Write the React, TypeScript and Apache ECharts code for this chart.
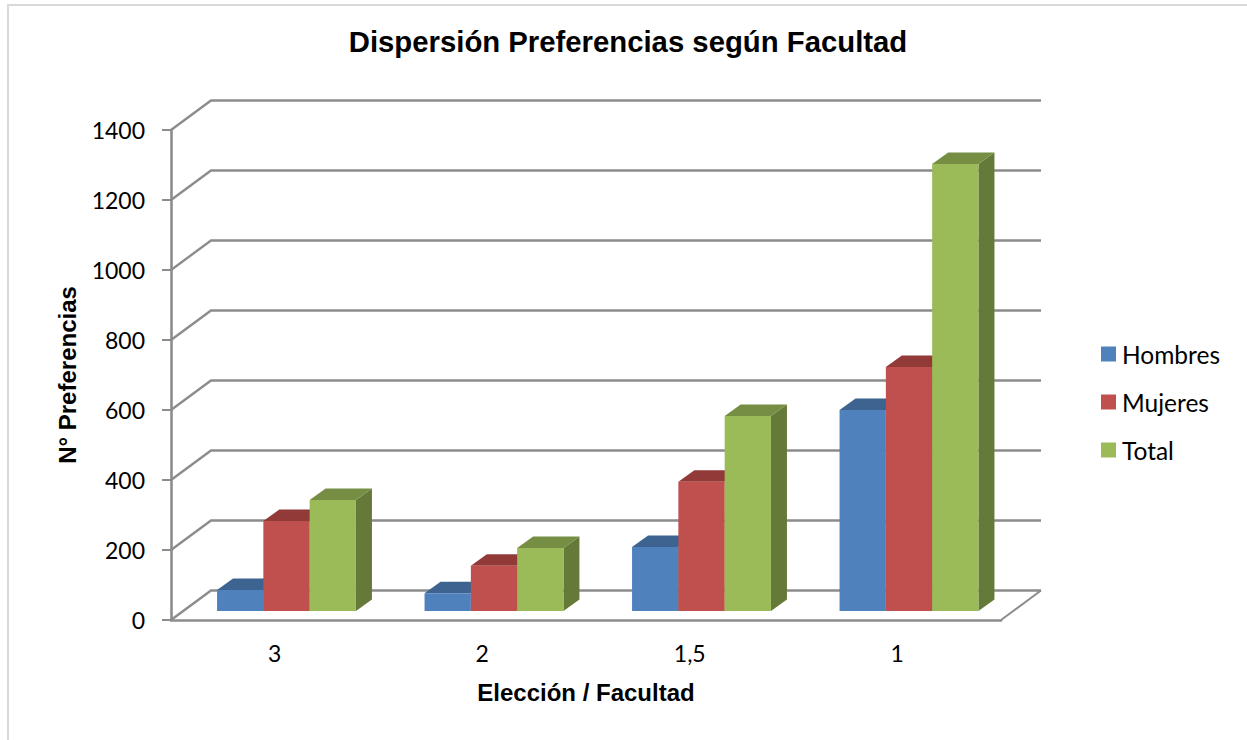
import React, { useEffect, useRef } from "react";
import * as echarts from "echarts";

const categories = ["3", "2", "1,5", "1"];
const hombres = [60, 51, 183, 574];
const mujeres = [257, 129, 369, 697];
const total = [317, 180, 557, 1277];
const yTicks = [0, 200, 400, 600, 800, 1000, 1200, 1400];

const GRID = { left: 171, top: 130, width: 830, height: 490 };
const WALL_DX = 40;
const WALL_DY = 29.5;
const BAR_W = 46.3;
const BAR_SHIFT = 11.75;
const FLOOR_DY = 9;
const DEPTH_X = 16;
const DEPTH_Y = 11.5;
const GRID_COLOR = "#8c8c8c";

const barRender = (slot: number, front: string, top: string, side: string) => (params: any, api: any) => {
  const idx = api.value(0);
  const [cx, yTop] = api.coord([idx, api.value(1)]);
  const [, yBase] = api.coord([idx, 0]);
  const x0 = cx + BAR_SHIFT + (slot - 1.5) * BAR_W;
  const x1 = x0 + BAR_W;
  const y0 = yTop - FLOOR_DY;
  const y1 = yBase - FLOOR_DY;
  return {
    type: "group",
    children: [
      { type: "polygon", shape: { points: [[x1, y0], [x1 + DEPTH_X, y0 - DEPTH_Y], [x1 + DEPTH_X, y1 - DEPTH_Y], [x1, y1]] }, style: { fill: side } },
      { type: "polygon", shape: { points: [[x0, y0], [x0 + DEPTH_X, y0 - DEPTH_Y], [x1 + DEPTH_X, y0 - DEPTH_Y], [x1, y0]] }, style: { fill: top } },
      { type: "rect", shape: { x: x0, y: y0, width: BAR_W, height: y1 - y0 }, style: { fill: front } },
    ],
  };
};

const wallRender = (params: any, api: any) => {
  const v = api.value(1);
  const y = api.coord([0, v])[1];
  const cs = params.coordSys;
  const xL = cs.x;
  const xR = cs.x + cs.width;
  const children: any[] = [
    {
      type: "polyline",
      shape: { points: [[xL, y], [xL + WALL_DX, y - WALL_DY], [xR + WALL_DX, y - WALL_DY]] },
      style: { stroke: GRID_COLOR, lineWidth: 2.4, fill: "none" },
    },
  ];
  if (v === 0) {
    children.push({
      type: "line",
      shape: { x1: xR, y1: y, x2: xR + WALL_DX, y2: y - WALL_DY },
      style: { stroke: GRID_COLOR, lineWidth: 2 },
    });
  }
  return { type: "group", children };
};

const seriesDefs = [
  { name: "Hombres", values: hombres, front: "#4F81BD", top: "#3D6390", side: "#3A5F8C" },
  { name: "Mujeres", values: mujeres, front: "#C0504D", top: "#923A38", side: "#8E3B39" },
  { name: "Total", values: total, front: "#9BBB59", top: "#768E44", side: "#657A38" },
];

export default function App() {
  const ref = useRef<HTMLDivElement>(null);
  useEffect(() => {
    const chart = echarts.init(ref.current!, undefined, { renderer: "svg" });
    chart.setOption({
      animation: false,
      backgroundColor: "#ffffff",
      title: {
        text: "Dispersión Preferencias según Facultad",
        left: 623,
        top: 22,
        textAlign: "center",
        textStyle: { fontFamily: "Liberation Sans", fontSize: 29.3, fontWeight: "bold", color: "#000" },
      },
      legend: {
        data: seriesDefs.map((s) => s.name),
        orient: "vertical",
        left: 1096,
        top: 335,
        icon: "rect",
        itemWidth: 15,
        itemHeight: 15,
        itemGap: 20,
        textStyle: { fontFamily: "Lato", fontSize: 24.5, color: "#000", padding: [0, 0, 0, 1], lineHeight: 28 },
      },
      grid: GRID,
      xAxis: {
        type: "category",
        data: categories,
        name: "Elección / Facultad",
        nameLocation: "middle",
        nameGap: 60,
        nameTextStyle: { fontFamily: "Liberation Sans", fontSize: 24, fontWeight: "bold", color: "#000" },
        axisLine: { lineStyle: { color: GRID_COLOR, width: 2.6 } },
        axisTick: { show: false },
        axisLabel: { fontFamily: "Lato", fontSize: 23, color: "#000", margin: 21 },
      },
      yAxis: {
        type: "value",
        min: 0,
        max: 1400,
        interval: 200,
        name: "N° Preferencias",
        nameLocation: "middle",
        nameGap: 92,
        nameTextStyle: { fontFamily: "Liberation Sans", fontSize: 24, fontWeight: "bold", color: "#000" },
        axisLine: { show: true, lineStyle: { color: GRID_COLOR, width: 2.6 } },
        axisTick: { show: true, length: 9, lineStyle: { color: GRID_COLOR, width: 2 } },
        axisLabel: { fontFamily: "Lato", fontSize: 23, color: "#000", margin: 26, formatter: (v: number) => String(v) },
        splitLine: { show: false },
      },
      graphic: [
        {
          type: "polyline",
          shape: { points: [[8, 740], [8, 5], [1247, 5]] },
          style: { stroke: "#d9d9d9", lineWidth: 2, fill: "none" },
          silent: true,
        },
      ],
      series: [
        {
          type: "custom",
          name: "walls",
          renderItem: wallRender,
          clip: false,
          silent: true,
          z: 1,
          data: yTicks.map((t) => [0, t]),
          encode: { x: 0, y: 1 },
        },
        ...seriesDefs.map((s, slot) => ({
          type: "custom",
          name: s.name,
          renderItem: barRender(slot, s.front, s.top, s.side),
          clip: false,
          z: 3 + slot,
          itemStyle: { color: s.front },
          data: s.values.map((v, i) => [i, v]),
          encode: { x: 0, y: 1 },
        })),
      ],
    });
    return () => chart.dispose();
  }, []);
  return <div ref={ref} style={{ position: "fixed", left: 0, top: 0, width: 1247, height: 740 }} />;
}
